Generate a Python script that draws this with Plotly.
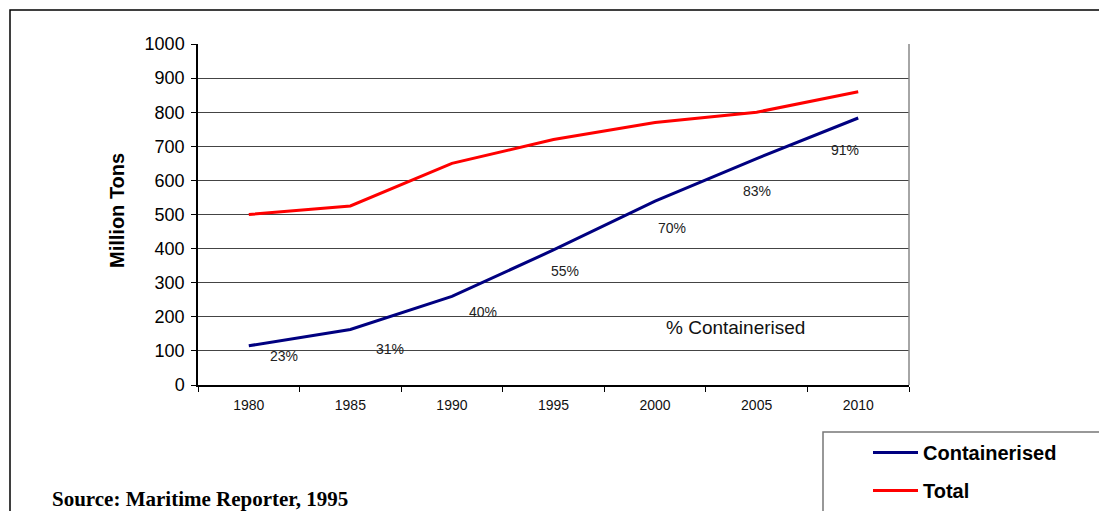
import plotly.graph_objects as go

# Seaborne trade volumes (million tons)
years = ["1980", "1985", "1990", "1995", "2000", "2005", "2010"]
containerised = [115, 163, 260, 396, 539, 664, 783]
total = [500, 525, 650, 720, 770, 800, 860]
y_ticks = [0, 100, 200, 300, 400, 500, 600, 700, 800, 900, 1000]

# share of containerised cargo, as printed beside the blue line
shares = [round(c / t * 100) for c, t in zip(containerised, total)]

# where each share label sits (category index, value)
label_x = [0.345, 1.39, 2.31, 3.11, 4.17, 5.0, 5.87]
label_y = [85, 106, 214, 334, 460, 569, 689]

W, H = 1099, 511
L, R, T, B = 198, 909, 44, 385


def px(x):
    return (x - L) / (R - L)


def py(y):
    return (B - y) / (B - T)


fig = go.Figure()
fig.add_trace(go.Scatter(x=years, y=containerised, mode="lines", name="<b>Containerised</b>",
                         legendgroup="c", line=dict(color="#000080", width=3)))
fig.add_trace(go.Scatter(x=years, y=total, mode="lines", name="<b>Total</b>",
                         legendgroup="t", line=dict(color="#FF0000", width=3)))

annotations = []
for xi, yi, s in zip(label_x, label_y, shares):
    annotations.append(dict(x=xi, y=yi, xref="x", yref="y", text=f"{s}%", showarrow=False,
                            xanchor="center", yanchor="middle",
                            font=dict(family="Liberation Sans, Arial", size=14, color="#222")))
annotations.append(dict(x=4.795, y=170, xref="x", yref="y", text="% Containerised", showarrow=False,
                        xanchor="center", yanchor="middle",
                        font=dict(family="Liberation Sans, Arial", size=19, color="#111")))
annotations.append(dict(x=px(117), y=py(211), xref="paper", yref="paper", text="<b>Million Tons</b>",
                        textangle=-90, showarrow=False, xanchor="center", yanchor="middle",
                        font=dict(family="Liberation Sans, Arial", size=20, color="black")))
annotations.append(dict(x=px(50), y=py(499), xref="paper", yref="paper", xanchor="left",
                        yanchor="middle",
                        text="<b>Source: Maritime Reporter, 1995</b>", showarrow=False,
                        font=dict(family="Liberation Serif, Times New Roman", size=21, color="black")))

shapes = [
    # outer frame
    dict(type="rect", xref="paper", yref="paper", x0=px(10), x1=px(1115), y0=py(525), y1=py(10),
         line=dict(color="black", width=1.5), layer="below"),
    # right edge of the plot area
    dict(type="line", xref="paper", yref="paper", x0=1, x1=1, y0=0, y1=1,
         line=dict(color="#888", width=1.5)),
    # legend frame
    dict(type="rect", xref="paper", yref="paper", x0=px(823), x1=px(1115), y0=py(525), y1=py(432),
         line=dict(color="#777", width=1.5)),
]

fig.update_layout(
    width=W, height=H,
    margin=dict(l=L, r=W - R, t=T, b=H - B, pad=0, autoexpand=False),
    paper_bgcolor="white", plot_bgcolor="white",
    showlegend=True,
    legend=dict(x=px(868), y=py(433), xanchor="left", yanchor="top",
                font=dict(family="Liberation Sans, Arial", size=20, color="black"),
                bgcolor="rgba(0,0,0,0)", borderwidth=0, tracegroupgap=9, itemwidth=45,
                traceorder="grouped"),
    annotations=annotations,
    shapes=shapes,
    xaxis=dict(type="category", range=[-0.5, 6.5], tickson="boundaries", ticks="outside",
               ticklen=5, tickcolor="black", showline=True, linecolor="black", linewidth=1.5,
               showgrid=False, zeroline=False, ticklabelstandoff=6,
               tickfont=dict(family="Liberation Sans, Arial", size=14, color="#111")),
    yaxis=dict(range=[0, 1000], tickvals=y_ticks, ticks="outside", ticklen=5, tickcolor="black",
               showline=True, linecolor="black", linewidth=1.5, showgrid=True, gridcolor="#444",
               gridwidth=1, zeroline=False, ticklabelstandoff=3,
               tickfont=dict(family="Liberation Sans, Arial", size=18, color="black")),
)

fig.write_html("out.html")
